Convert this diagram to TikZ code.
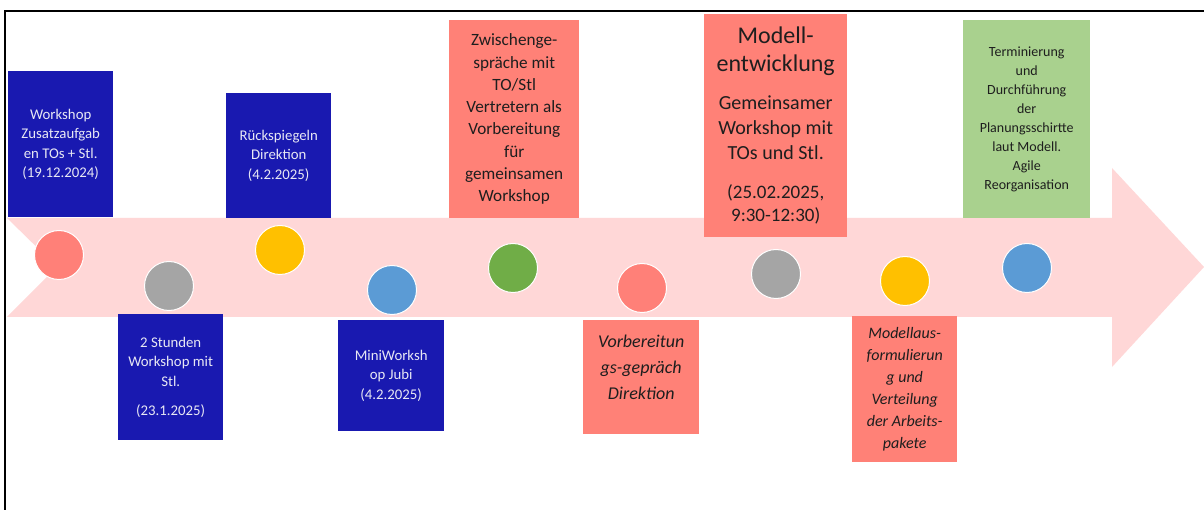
\documentclass[tikz,border=0pt]{standalone}
\usepackage{fontspec}
\setmainfont{Carlito}
\definecolor{boxblue}{HTML}{1919B0}
\definecolor{boxsalmon}{HTML}{FF8177}
\definecolor{boxgreen}{HTML}{A9D18E}
\definecolor{arrowpink}{HTML}{FFD7D7}
\definecolor{cSalmon}{HTML}{FF8078}
\definecolor{cGray}{HTML}{A5A5A5}
\definecolor{cYellow}{HTML}{FFC000}
\definecolor{cBlue}{HTML}{5B9BD5}
\definecolor{cGreen}{HTML}{70AD47}
\definecolor{lighttext}{HTML}{E8E8F4}
\definecolor{darktext}{HTML}{1E1E1E}
\newcommand{\mbig}{\fontsize{24}{28}\selectfont}
\newcommand{\mmid}{\fontsize{20}{25}\selectfont}
\newcommand{\mdate}{\fontsize{19}{23}\selectfont}
\tikzset{
  tbox/.style={anchor=north west, inner sep=0pt, align=center, minimum width=#1},
  bluebox/.style={tbox=#1, fill=boxblue, text=lighttext, font=\fontsize{14.8}{19.5}\selectfont},
  salmonbox/.style={tbox=#1, fill=boxsalmon, text=darktext},
  greenbox/.style={tbox=#1, fill=boxgreen, text=darktext, font=\fontsize{14}{19}\selectfont},
  dot/.style={circle, minimum size=49pt, inner sep=0pt, draw=white, line width=1pt, fill=#1},
}
\begin{document}
\begin{tikzpicture}[x=1pt,y=-1pt]
\useasboundingbox (0,0) rectangle (1204,510);
\fill[white] (0,0) rectangle (1204,510);
% frame
\draw[line width=2pt, black] (5,510) -- (5,11) -- (1204,11);
% timeline arrow
\fill[arrowpink] (7,218) -- (1112,218) -- (1112,168) -- (1204,267) -- (1112,367) -- (1112,317) -- (7,317) -- (57,267) -- cycle;
% boxes
\node[bluebox=105pt, minimum height=146pt] (b1) at (8,71)
  {Workshop\\Zusatzaufgab\\en TOs + Stl.\\(19.12.2024)};
\node[bluebox=105pt, minimum height=126pt] (b2) at (118,314)
  {2 Stunden\\Workshop mit\\Stl.\\[10pt](23.1.2025)};
\node[bluebox=105pt, minimum height=125pt] (b3) at (226,93)
  {Rückspiegeln\\Direktion\\(4.2.2025)};
\node[bluebox=106pt, minimum height=111pt] (b4) at (338,320)
  {MiniWorksh\\op Jubi\\(4.2.2025)};
\node[salmonbox=130pt, minimum height=198pt, font=\fontsize{17.2}{22.3}\selectfont] (b5) at (449,20)
  {Zwischenge-\\spräche mit\\TO/Stl\\Vertretern als\\Vorbereitung\\für\\gemeinsamen\\Workshop};
\node[salmonbox=116pt, minimum height=114pt, font=\itshape\fontsize{18}{26}\selectfont] (b6) at (583,320)
  {Vorbereitun\\gs-gepräch\\Direktion\\[-6pt]\mbox{}};
\node[salmonbox=143pt, minimum height=223pt] (b7) at (704,14)
  {\begin{minipage}{143pt}\centering
   \mbig Modell-\par entwicklung\par\vspace{13pt}
   \mmid Gemeinsamer\par Workshop mit\par TOs und Stl.\par\vspace{16pt}
   \mdate (25.02.2025,\par 9:30-12:30)\par
   \end{minipage}};
\node[salmonbox=105pt, minimum height=146pt, font=\itshape\fontsize{16}{22}\selectfont] (b8) at (852,316)
  {Modellaus-\\formulierun\\g und\\Verteilung\\der Arbeits-\\pakete};
\node[greenbox=127pt, minimum height=198pt] (b9) at (963,20)
  {Terminierung\\und\\Durchführung\\der\\Planungsschirtte\\laut Modell.\\Agile\\Reorganisation};
% milestone dots
\node[dot=cSalmon] (c1) at (59,255) {};
\node[dot=cGray]   (c2) at (169,286) {};
\node[dot=cYellow] (c3) at (280,250) {};
\node[dot=cBlue]   (c4) at (392,290) {};
\node[dot=cGreen]  (c5) at (513,268) {};
\node[dot=cSalmon] (c6) at (642,288) {};
\node[dot=cGray]   (c7) at (776,274) {};
\node[dot=cYellow] (c8) at (905,281) {};
\node[dot=cBlue]   (c9) at (1027,268) {};
\end{tikzpicture}
\end{document}
